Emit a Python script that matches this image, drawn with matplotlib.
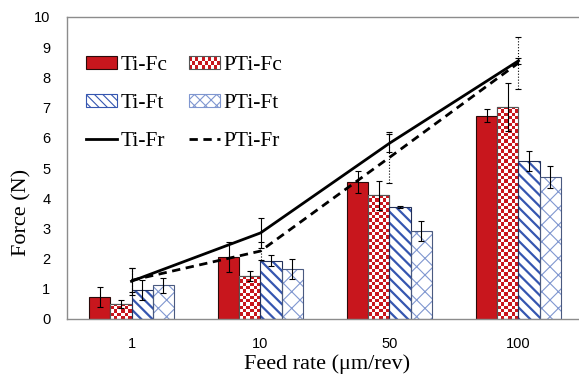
import matplotlib
matplotlib.use('Agg')
import matplotlib.pyplot as plt
import numpy as np
from matplotlib.colors import ListedColormap
from matplotlib.patches import Patch, Rectangle
from matplotlib.lines import Line2D
from matplotlib.legend_handler import HandlerBase

feed = ['1', '10', '50', '100']

ti_fc = [0.72, 2.05, 4.53, 6.73]
ti_fc_err = [0.33, 0.49, 0.36, 0.22]
pti_fc = [0.50, 1.42, 4.10, 7.02]
pti_fc_err = [0.13, 0.16, 0.48, 0.78]
ti_ft = [0.97, 1.93, 3.71, 5.23]
ti_ft_err = [0.33, 0.18, 0.03, 0.34]
pti_ft = [1.11, 1.67, 2.90, 4.71]
pti_ft_err = [0.25, 0.33, 0.33, 0.36]
ti_fr = [1.25, 2.85, 5.82, 8.55]
ti_fr_err = [0.45, 0.50, 0.30, 0.10]
pti_fr = [1.28, 2.25, 5.35, 8.48]
pti_fr_err = [0.40, 0.30, 0.85, 0.87]

RED = '#C8161D'
BLUE = '#3556B0'
LBLUE = '#8097D0'


class CheckerHandler(HandlerBase):
    def create_artists(self, legend, orig_handle, xdescent, ydescent,
                       width, height, fontsize, trans):
        nx, ny = 10, 3
        x0, y0 = -xdescent, -ydescent
        cw, ch = width / nx, height / ny
        arts = [Rectangle((x0, y0), width, height, facecolor='white',
                          edgecolor='none', transform=trans)]
        for i in range(nx):
            for j in range(ny):
                if (i + j) % 2 == 0:
                    arts.append(Rectangle((x0 + i * cw, y0 + j * ch), cw, ch,
                                          facecolor=RED, edgecolor='none',
                                          transform=trans))
        arts.append(Rectangle((x0, y0), width, height, facecolor='none',
                              edgecolor='#555555', lw=0.8, transform=trans))
        return arts


fig = plt.figure(figsize=(5.79, 3.79), dpi=100)
ax = fig.add_axes([67 / 579, 1 - 319 / 379, 516 / 579, 302 / 379])

x = np.arange(len(feed))
w = 0.163
ekw = dict(ecolor='black', elinewidth=0.8, capsize=2.5, capthick=0.8)

# Ti-Fc solid red
ax.bar(x - 1.5 * w, ti_fc, w, color=RED, edgecolor='#2a0a0a', lw=0.8,
       yerr=ti_fc_err, error_kw=ekw, zorder=2)

# PTi-Fc red checkerboard
bars = ax.bar(x - 0.5 * w, pti_fc, w, color='white', edgecolor='#555555',
              lw=0.8, zorder=2)
cmap = ListedColormap(['white', RED])
for b in bars:
    bx, by, bw, bh = b.get_x(), b.get_y(), b.get_width(), b.get_height()
    nrow = max(1, int(round(bh / 0.11)))
    ncol = 6
    img = np.indices((nrow, ncol)).sum(axis=0) % 2
    im = ax.imshow(img, cmap=cmap, extent=(bx, bx + bw, by, by + bh),
                   interpolation='nearest', aspect='auto', zorder=2.1,
                   origin='lower')
    im.set_clip_path(b)
ax.bar(x - 0.5 * w, pti_fc, w, color='none', edgecolor='#555555', lw=0.8,
       yerr=pti_fc_err, error_kw=ekw, zorder=2.2)

# Ti-Ft blue stripes
plt.rcParams['hatch.linewidth'] = 1.6
ax.bar(x + 0.5 * w, ti_ft, w, color='white', edgecolor=BLUE, lw=0,
       hatch='\\\\\\', zorder=2)
ax.bar(x + 0.5 * w, ti_ft, w, color='none', edgecolor='#22305a', lw=0.8,
       yerr=ti_ft_err, error_kw=ekw, zorder=2.2)

# PTi-Ft light blue cross hatch
plt.rcParams['hatch.linewidth'] = 0.8
ax.bar(x + 1.5 * w, pti_ft, w, color='white', edgecolor=LBLUE, lw=0,
       hatch='xx', zorder=2)
ax.bar(x + 1.5 * w, pti_ft, w, color='none', edgecolor='#4a5a80', lw=0.8,
       yerr=pti_ft_err, error_kw=ekw, zorder=2.2)

# resultant force lines
ax.errorbar(x, ti_fr, yerr=ti_fr_err, color='black', lw=2.0, zorder=3,
            **ekw)
eb = ax.errorbar(x, pti_fr, yerr=pti_fr_err, color='black', lw=2.0,
                 ls=(0, (3, 2)), zorder=3, **ekw)
eb[2][0].set_linestyle(':')

ax.set_xlim(-0.5, 3.5)
ax.set_ylim(0, 10)
ax.set_yticks(range(0, 11))
ax.set_xticks(x)
ax.set_xticklabels(feed)
ax.tick_params(length=0, labelsize=10.5)
ax.tick_params(axis='y', pad=12)
ax.tick_params(axis='x', pad=13)
for lab in ax.get_xticklabels() + ax.get_yticklabels():
    lab.set_fontfamily('Liberation Sans')
for s in ['left', 'bottom', 'top']:
    ax.spines[s].set_color('#8c8c8c')
    ax.spines[s].set_linewidth(1.0)
ax.spines['right'].set_visible(False)

serif = 'Liberation Serif'
ax.set_xlabel('Feed rate (\u03bcm/rev)', family=serif, fontsize=16)
ax.xaxis.set_label_coords(0.504, -0.118)
ax.set_ylabel('Force (N)', family=serif, fontsize=16)
ax.yaxis.set_label_coords(-0.068, 0.352)

h_tifc = Patch(facecolor=RED, edgecolor='#2a0a0a', lw=0.8)
h_ptifc = Patch(facecolor='white', edgecolor='#555555')
h_tift = Patch(facecolor='white', edgecolor=BLUE, hatch='\\\\\\\\', lw=0.8)
h_ptift = Patch(facecolor='white', edgecolor=LBLUE, hatch='xxx', lw=0.8)
h_tifr = Line2D([], [], color='black', lw=2.0)
h_ptifr = Line2D([], [], color='black', lw=2.0, ls=(0, (3, 2)))

handles = [h_tifc, h_tift, h_tifr, h_ptifc, h_ptift, h_ptifr]
labels = ['Ti-Fc', 'Ti-Ft', 'Ti-Fr', 'PTi-Fc', 'PTi-Ft', 'PTi-Fr']
ax.legend(handles, labels, ncol=2, frameon=False, loc='upper left',
          bbox_to_anchor=(0.037, 0.87), borderpad=0, borderaxespad=0,
          prop={'family': serif, 'size': 15.5}, handlelength=1.45,
          handleheight=0.5, handletextpad=0.15, columnspacing=1.0,
          labelspacing=0.88, handler_map={h_ptifc: CheckerHandler()})

fig.savefig('out.png', dpi=100)
